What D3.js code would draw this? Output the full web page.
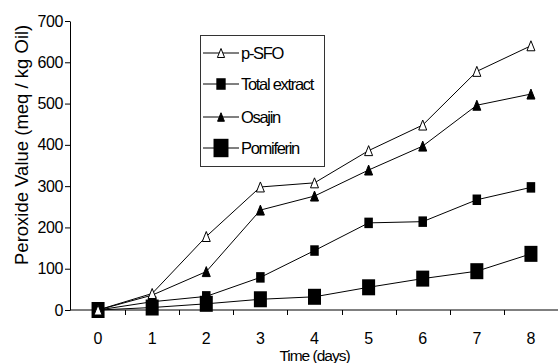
<!DOCTYPE html>
<html>
<head>
<meta charset="utf-8">
<script src="https://cdn.jsdelivr.net/npm/d3@7"></script>
<style>
  html, body { margin: 0; padding: 0; background: #fff; }
  svg { display: block; font-family: "Liberation Sans", Arial, sans-serif; }
</style>
</head>
<body>
<svg id="chart" width="558" height="363"></svg>
<script>
const days = [0, 1, 2, 3, 4, 5, 6, 7, 8];
const yTicks = [0, 100, 200, 300, 400, 500, 600, 700];
const pSFO = [0, 40, 178, 298, 308, 386, 448, 578, 640];
const totalExtract = [0, 20, 33, 79, 144, 211, 214, 267, 297];
const osajin = [0, 36, 93, 242, 276, 339, 397, 496, 523];
const pomiferin = [0, 6, 15, 26, 32, 55, 76, 94, 136];
const seriesNames = ["p-SFO", "Total extract", "Osajin", "Pomiferin"];
const yTitle = "Peroxide Value (meq / kg Oil)";
const xTitle = "Time (days)";

const svg = d3.select("#chart");
const mLeft = 71, mRight = 558, mTop = 21, mBottom = 310;

const x = d3.scaleBand().domain(days).range([mLeft, mRight]).paddingInner(0).paddingOuter(0);
const y = d3.scaleLinear().domain([0, 700]).range([mBottom, mTop]);
const cx = d => x(d) + x.bandwidth() / 2;

// Y axis
const yAxis = d3.axisLeft(y).tickValues(yTicks).tickSize(5).tickSizeOuter(0).tickPadding(2);
const gy = svg.append("g").attr("transform", `translate(${mLeft - 1},0)`).call(yAxis);
gy.select(".domain").attr("stroke", "#000");
gy.selectAll(".tick line").attr("stroke", "#000");
gy.selectAll(".tick text").attr("font-size", 16).attr("fill", "#000")
  .attr("letter-spacing", "-0.4px").attr("font-family", "Liberation Sans, Arial, sans-serif");

// X axis line and boundary ticks
svg.append("line").attr("x1", mLeft - 1).attr("x2", mRight).attr("y1", mBottom).attr("y2", mBottom)
  .attr("stroke", "#000").attr("stroke-width", 1);
svg.append("g").selectAll("line").data(days.slice(1).concat(["end"]))
  .join("line")
  .attr("x1", (d, i) => Math.round(x(days[0]) + x.bandwidth() * (i + 1)) + 0.5)
  .attr("x2", (d, i) => Math.round(x(days[0]) + x.bandwidth() * (i + 1)) + 0.5)
  .attr("y1", mBottom).attr("y2", mBottom + 5)
  .attr("stroke", "#000");
svg.append("g").selectAll("text").data(days).join("text")
  .attr("x", d => cx(d)).attr("y", 344)
  .attr("text-anchor", "middle").attr("font-size", 16).attr("fill", "#000")
  .text(d => d);

// Titles
svg.append("text")
  .attr("transform", "translate(28,265) rotate(-90)")
  .attr("font-size", 18.5).attr("fill", "#000").attr("text-anchor", "start")
  .text(yTitle);
svg.append("text")
  .attr("x", (mLeft + mRight) / 2).attr("y", 361)
  .attr("text-anchor", "middle").attr("font-size", 15.5).attr("letter-spacing", "-1px").attr("fill", "#000")
  .text(xTitle);

// Markers
function drawMarker(g, type, px, py, scale) {
  const s = scale || 1;
  if (type === "triOpen" || type === "triFill") {
    const w = 8 * s, h = 10 * s;
    g.append("path")
      .attr("d", `M${px},${py - h / 2}L${px + w / 2},${py + h / 2}L${px - w / 2},${py + h / 2}Z`)
      .attr("fill", type === "triOpen" ? "#fff" : "#000")
      .attr("stroke", "#000").attr("stroke-width", 1);
  } else if (type === "sqSmall") {
    const w = 8.5 * s, h = 10.5 * s;
    g.append("rect").attr("x", px - w / 2).attr("y", py - h / 2).attr("width", w).attr("height", h).attr("fill", "#000");
  } else if (type === "sqLarge") {
    const w = 13 * s, h = 16 * s;
    g.append("rect").attr("x", px - w / 2).attr("y", py - h / 2).attr("width", w).attr("height", h).attr("fill", "#000");
  }
}

const series = [
  { name: seriesNames[0], values: pSFO, marker: "triOpen" },
  { name: seriesNames[1], values: totalExtract, marker: "sqSmall" },
  { name: seriesNames[2], values: osajin, marker: "triFill" },
  { name: seriesNames[3], values: pomiferin, marker: "sqLarge" }
];

const line = d3.line().x((d, i) => cx(days[i])).y(d => y(d));

const linesG = svg.append("g");
series.forEach(s => {
  linesG.append("path").datum(s.values).attr("d", line)
    .attr("fill", "none").attr("stroke", "#000").attr("stroke-width", 1);
});
const markG = svg.append("g");
[3, 1, 2, 0].forEach(k => {
  const s = series[k];
  s.values.forEach((v, i) => drawMarker(markG, s.marker, cx(days[i]), y(v)));
});

// Legend
const lg = svg.append("g");
lg.append("rect").attr("x", 200.5).attr("y", 35.5).attr("width", 124).attr("height", 131)
  .attr("fill", "#fff").attr("stroke", "#333").attr("stroke-width", 1);
const legendY = [53, 84, 117, 148];
const legendScale = [0.9, 1.1, 0.85, 1.15];
series.forEach((s, i) => {
  const ly = legendY[i];
  lg.append("line").attr("x1", 203).attr("x2", 239).attr("y1", ly).attr("y2", ly).attr("stroke", "#000");
  drawMarker(lg, s.marker, 221, ly, legendScale[i]);
  lg.append("text").attr("x", 241).attr("y", ly + 5.5)
    .attr("font-size", 16.5).attr("letter-spacing", "-1.3px").attr("fill", "#000")
    .text(s.name);
});
</script>
</body>
</html>
